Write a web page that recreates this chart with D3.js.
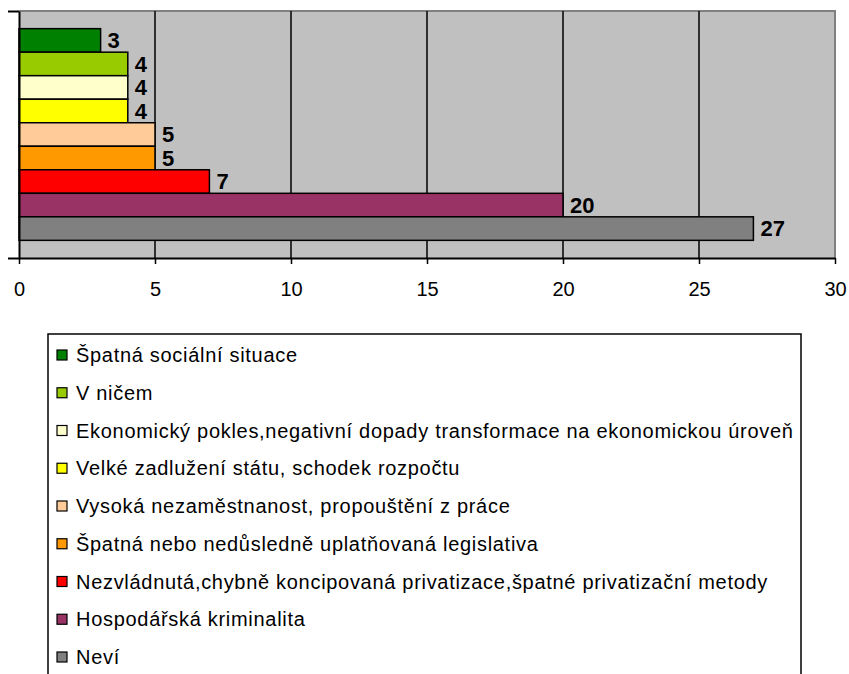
<!DOCTYPE html>
<html>
<head>
<meta charset="utf-8">
<script src="https://cdn.jsdelivr.net/npm/d3@7"></script>
<style>
  body { margin: 0; background: #fff; }
  text { font-family: Arial, "Liberation Sans", sans-serif; }
</style>
</head>
<body>
<div id="chart"></div>
<script>
// data, top bar first
var series = ["Špatná sociální situace", "V ničem",
  "Ekonomický pokles,negativní dopady transformace na ekonomickou úroveň",
  "Velké zadlužení státu, schodek rozpočtu",
  "Vysoká nezaměstnanost, propouštění z práce",
  "Špatná nebo nedůsledně uplatňovaná legislativa",
  "Nezvládnutá,chybně koncipovaná privatizace,špatné privatizační metody",
  "Hospodářská kriminalita", "Neví"];
var values = [3, 4, 4, 4, 5, 5, 7, 20, 27];
var colors = ["#008000", "#99CC00", "#FFFFCC", "#FFFF00", "#FFCC99", "#FF9900", "#FF0000", "#993366", "#808080"];
var xTicks = [0, 5, 10, 15, 20, 25, 30];

var margin = {top: 11, right: 14, bottom: 0, left: 19},
    width = 835 - margin.left,
    height = 258 - margin.top;

var svg = d3.select("#chart")
    .append("svg")
    .attr("width", 849)
    .attr("height", 674);

var g = svg.append("g")
    .attr("transform", "translate(" + margin.left + "," + margin.top + ")");

var x = d3.scaleLinear().domain([0, 30]).range([0, width]);

// one category, series clustered inside it
var y0 = d3.scaleBand().domain(["all"]).range([0, height]).paddingOuter(0.0834);
var y1 = d3.scaleBand().domain(series).range([0, y0.bandwidth()]);

// plot background
g.append("rect")
    .attr("width", width)
    .attr("height", height)
    .attr("fill", "#C0C0C0");

// top and right border in grey
g.append("path")
    .attr("d", "M0,0H" + width + "V" + height)
    .attr("fill", "none")
    .attr("stroke", "#808080")
    .attr("stroke-width", 2);

// gridlines
g.selectAll(".grid")
    .data(xTicks.slice(1, -1))
    .join("line")
    .attr("class", "grid")
    .attr("x1", d => x(d))
    .attr("x2", d => x(d))
    .attr("y1", 0)
    .attr("y2", height)
    .attr("stroke", "#000")
    .attr("stroke-width", 1.5);

// bars
var barG = g.append("g").attr("transform", "translate(0," + y0("all") + ")");
barG.selectAll("rect")
    .data(values)
    .join("rect")
    .attr("x", x(0))
    .attr("y", (d, i) => y1(series[i]))
    .attr("width", d => x(d) - x(0))
    .attr("height", y1.bandwidth())
    .attr("fill", (d, i) => colors[i])
    .attr("stroke", "#000")
    .attr("stroke-width", 1.5);

// value labels
barG.selectAll("text")
    .data(values)
    .join("text")
    .attr("x", d => x(d) + 7)
    .attr("y", (d, i) => y1(series[i]) + y1.bandwidth() / 2)
    .attr("dy", "0.36em")
    .style("font-size", "22px")
    .style("font-weight", "bold")
    .text(d => d);

// x axis
var xAxis = g.append("g")
    .attr("transform", "translate(0," + height + ")")
    .call(d3.axisBottom(x).tickValues(xTicks).tickSize(6).tickPadding(17.5).tickSizeOuter(0));
xAxis.select(".domain").attr("stroke-width", 2);
xAxis.selectAll(".tick line").attr("stroke-width", 1.5);
xAxis.selectAll("text")
    .style("font-family", "Arial, 'Liberation Sans', sans-serif")
    .style("font-size", "20px")
    .attr("fill", "#000");

// y axis: only boundary ticks
var yEdge = d3.scaleLinear().domain([0, 1]).range([0, height]);
var yAxis = g.append("g")
    .call(d3.axisLeft(yEdge).tickValues([0, 1]).tickFormat("").tickSize(11).tickSizeOuter(0));
yAxis.select(".domain").attr("stroke-width", 2);
yAxis.selectAll(".tick line").attr("stroke-width", 2);

// legend
var legend = svg.append("g");
legend.append("rect")
    .attr("x", 48)
    .attr("y", 334)
    .attr("width", 753)
    .attr("height", 400)
    .attr("fill", "#fff")
    .attr("stroke", "#000")
    .attr("stroke-width", 1.5);

var ly = d3.scalePoint().domain(series).range([355, 657]);

var item = legend.selectAll(".item")
    .data(series)
    .join("g")
    .attr("class", "item")
    .attr("transform", d => "translate(0," + ly(d) + ")");

item.append("rect")
    .attr("x", 57)
    .attr("y", -5)
    .attr("width", 10)
    .attr("height", 10)
    .attr("fill", (d, i) => colors[i])
    .attr("stroke", "#000")
    .attr("stroke-width", 1.2);

item.append("text")
    .attr("x", 76)
    .attr("dy", "0.36em")
    .style("font-size", "20px")
    .style("letter-spacing", "0.7px")
    .text(d => d);
</script>
</body>
</html>
